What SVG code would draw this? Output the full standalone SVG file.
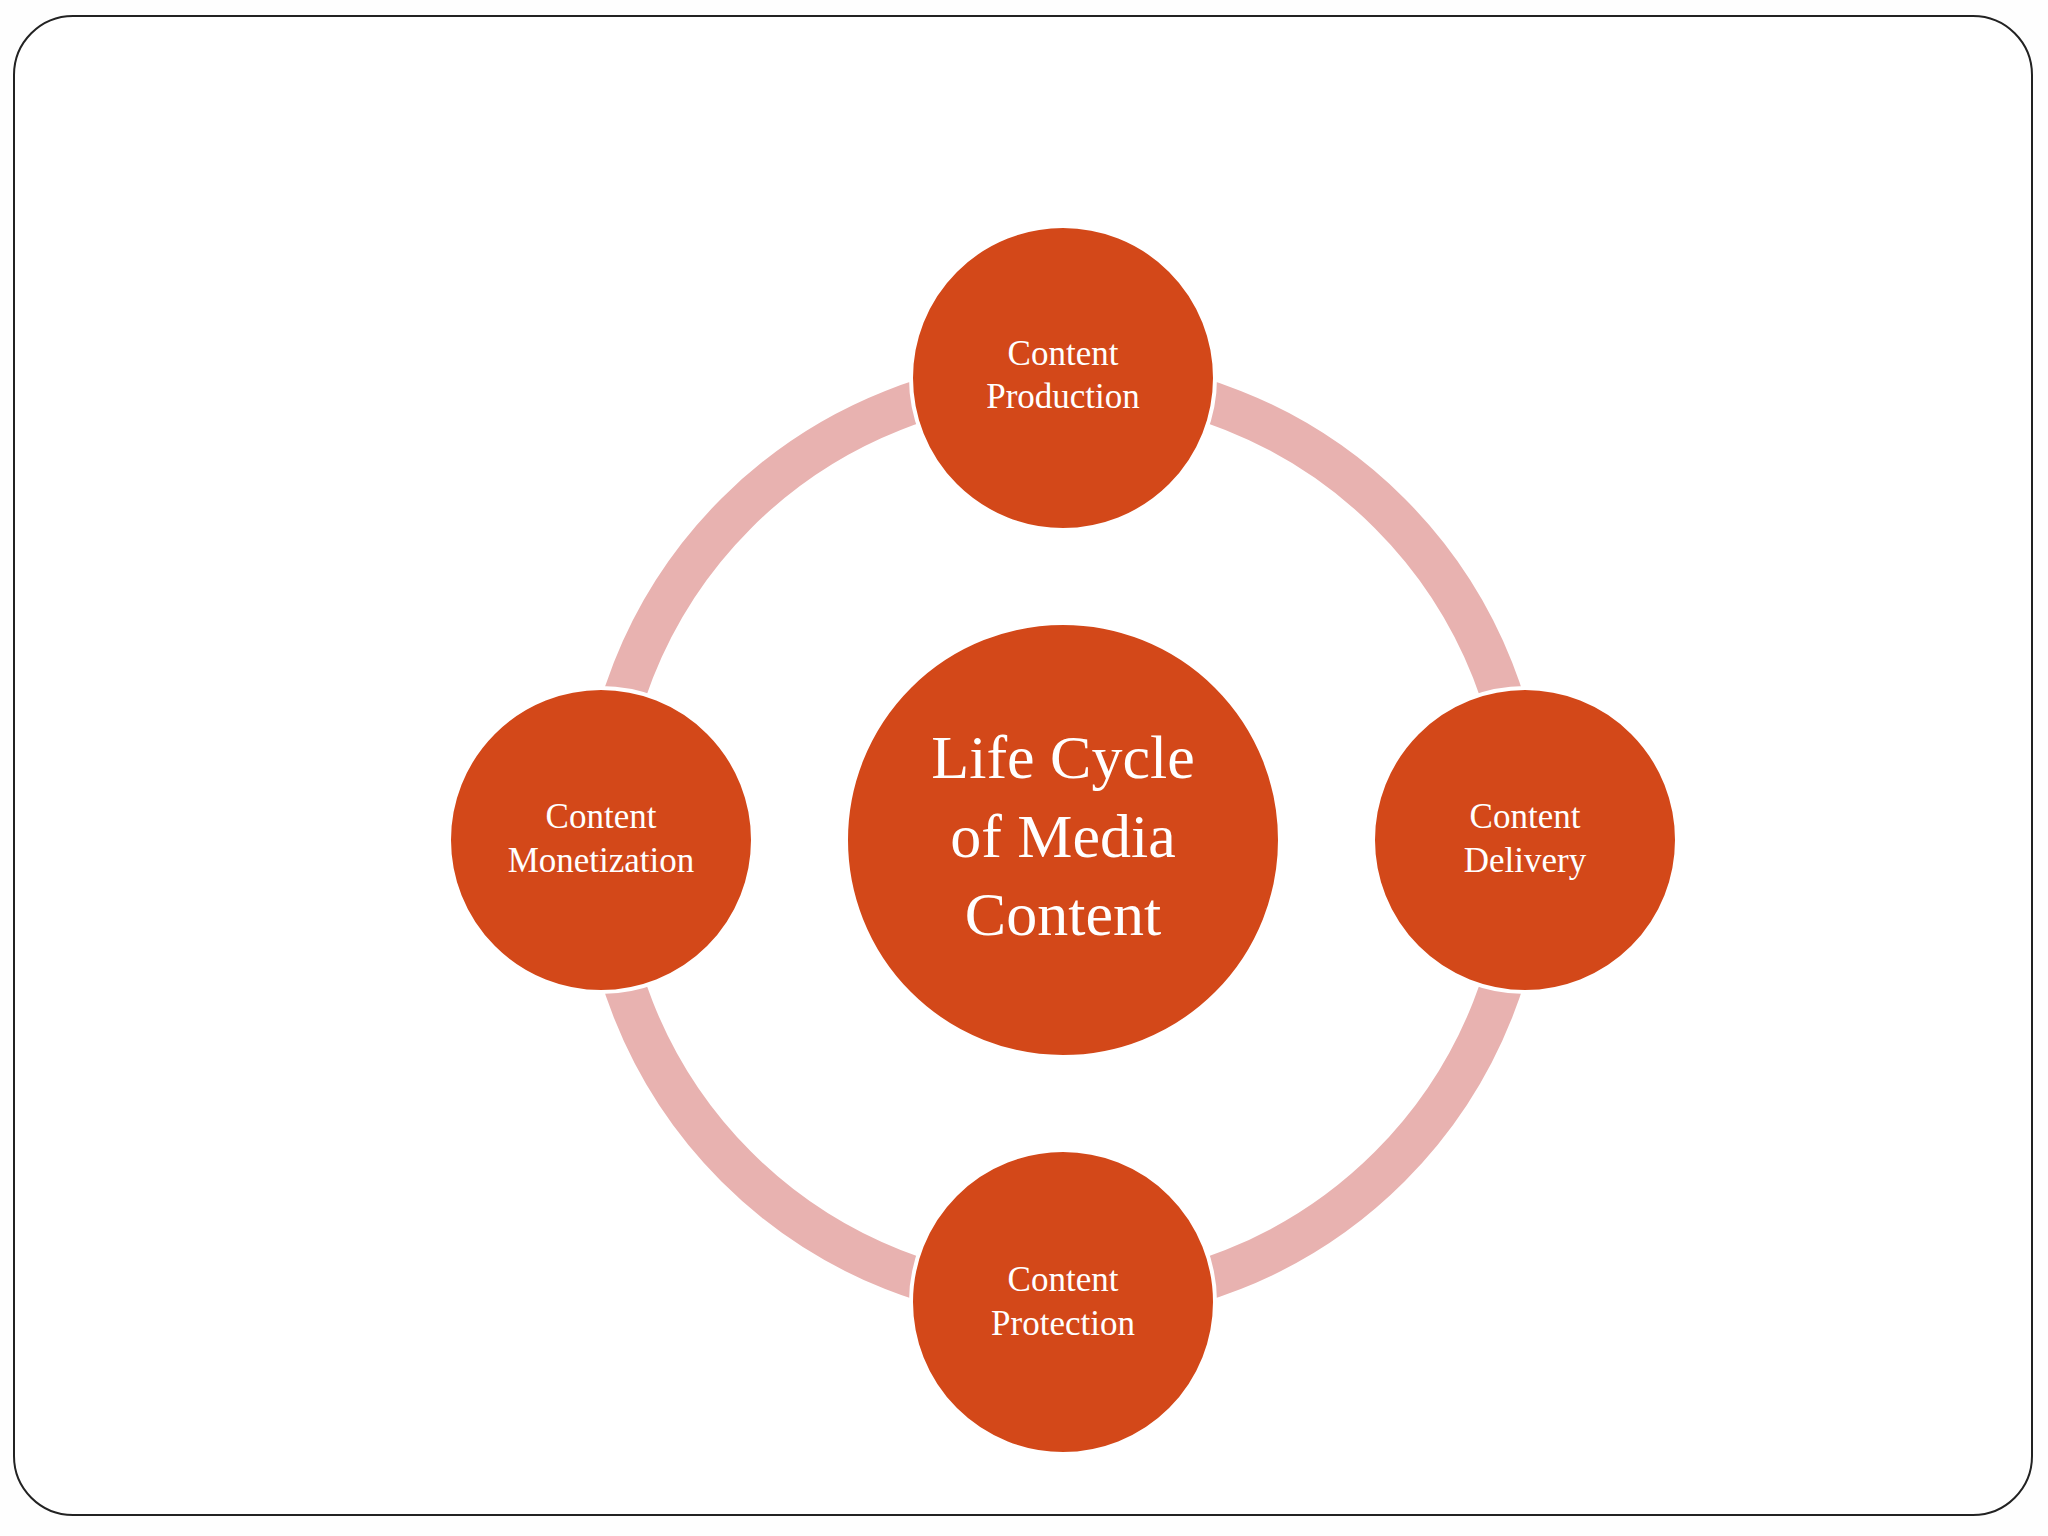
<svg xmlns="http://www.w3.org/2000/svg" width="2048" height="1536" viewBox="0 0 2048 1536">
<style>
.n{fill:#d34819;stroke:#ffffff;stroke-width:4}
.t{font-family:"Liberation Serif",serif;fill:#ffffff;text-anchor:middle;dominant-baseline:central}
.s{font-size:35px}
.c{font-size:62px}
</style>
<rect x="0" y="0" width="2048" height="1536" fill="#fefefe"/>
<rect x="14" y="16" width="2018" height="1499" rx="59" fill="#ffffff" stroke="#222" stroke-width="2"/>
<g id="connectors">
<circle cx="1063" cy="840" r="462" fill="none" stroke="#e8b2b0" stroke-width="42"/>
</g>
<g id="center"><circle class="n" cx="1063" cy="840" r="217"/>
<text class="t c" x="1063" y="757">Life Cycle</text><text class="t c" x="1063" y="836">of Media</text><text class="t c" x="1063" y="914">Content</text></g>
<g id="production"><circle class="n" cx="1063" cy="378" r="152"/>
<text class="t s" x="1063" y="353">Content</text><text class="t s" x="1063" y="396">Production</text></g>
<g id="delivery"><circle class="n" cx="1525" cy="840" r="152"/>
<text class="t s" x="1525" y="816">Content</text><text class="t s" x="1525" y="860">Delivery</text></g>
<g id="protection"><circle class="n" cx="1063" cy="1302" r="152"/>
<text class="t s" x="1063" y="1279">Content</text><text class="t s" x="1063" y="1323">Protection</text></g>
<g id="monetization"><circle class="n" cx="601" cy="840" r="152"/>
<text class="t s" x="601" y="816">Content</text><text class="t s" x="601" y="860">Monetization</text></g>
</svg>
